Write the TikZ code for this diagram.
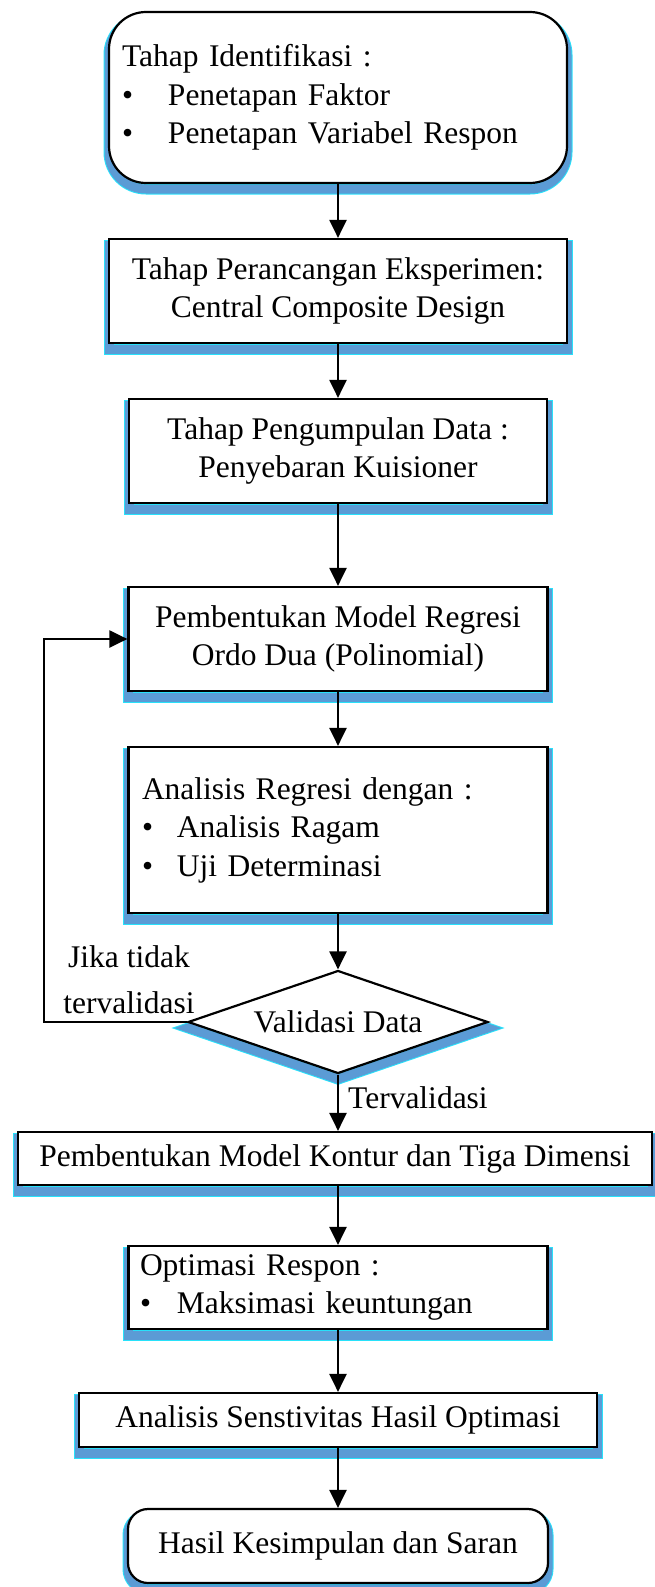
\documentclass[tikz,border=0pt]{standalone}
\usepackage{fontspec}
\setmainfont{Liberation Serif}
\usepackage{tikz}
\usetikzlibrary{arrows.meta,shapes.geometric}
\definecolor{shadowblue}{RGB}{91,155,213}
\definecolor{shadowcyan}{RGB}{40,225,250}

\begin{document}
\begin{tikzpicture}[x=1pt, y=1pt,
    font=\fontsize{31.5}{38.5}\selectfont,
    boxshadow/.style={
        preaction={draw=shadowcyan, line width=11pt, transform canvas={yshift=-6pt}},
        preaction={draw=shadowblue, line width=9pt, transform canvas={yshift=-6pt}}},
    stepbox/.style={boxshadow, draw, line width=2.2pt, fill=white, inner sep=0pt, align=center},
    roundbox/.style={stepbox, rounded corners=#1},
    decision/.style={boxshadow, diamond, draw, line width=2.2pt, fill=white, inner sep=0pt, aspect=2.9},
    flow/.style={-{Triangle[length=18pt,width=17pt]}, line width=2.2pt}]
    \useasboundingbox (0,0) rectangle (654,-1587);

    % Steps
    \node[roundbox=37pt, minimum width=458pt, minimum height=171pt, text width=432pt, align=left] (ident) at (338,-97.5)
        {Tahap Identifikasi :\\\makebox[46pt][l]{\textbullet}Penetapan Faktor\\\makebox[46pt][l]{\textbullet}Penetapan Variabel Respon};
    \node[stepbox, minimum width=458pt, minimum height=104pt] (design) at (338,-291)
        {Tahap Perancangan Eksperimen:\\Central Composite Design};
    \node[stepbox, minimum width=418pt, minimum height=104pt] (collect) at (338,-451)
        {Tahap Pengumpulan Data :\\Penyebaran Kuisioner};
    \node[stepbox, minimum width=419pt, minimum height=104pt] (model) at (338,-639)
        {Pembentukan Model Regresi\\Ordo Dua (Polinomial)};
    \node[stepbox, minimum width=419pt, minimum height=166pt, text width=392pt, align=left] (regress) at (338,-830)
        {Analisis Regresi dengan :\\\makebox[35pt][l]{\textbullet}Analisis Ragam\\\makebox[35pt][l]{\textbullet}Uji Determinasi};
    \node[decision, minimum width=300pt, minimum height=103pt] (valid) at (338,-1022) {Validasi Data};
    \node[stepbox, minimum width=634pt, minimum height=53pt] (kontur) at (335,-1158.5)
        {Pembentukan Model Kontur dan Tiga Dimensi};
    \node[stepbox, minimum width=419pt, minimum height=83pt, text width=396pt, align=left] (optim) at (338,-1287.5)
        {Optimasi Respon :\\\makebox[37pt][l]{\textbullet}Maksimasi keuntungan};
    \node[stepbox, minimum width=518pt, minimum height=54pt] (sens) at (338,-1420)
        {Analisis Senstivitas Hasil Optimasi};
    \node[roundbox=20pt, minimum width=420pt, minimum height=74pt] (result) at (338,-1546)
        {Hasil Kesimpulan dan Saran};

    % Labels
    \node[anchor=base west, inner sep=0pt] (yes) at (348,-1108) {Tervalidasi};
    \node[align=center, inner sep=0pt, font=\fontsize{31.5}{46}\selectfont] (no) at (129,-980) {Jika tidak\\tervalidasi};

    % Flow
    \draw[flow] (ident) -- (design);
    \draw[flow] (design) -- (collect);
    \draw[flow] (collect) -- (model);
    \draw[flow] (model) -- (regress);
    \draw[flow] (regress) -- (valid);
    \draw[flow] (valid.south) -- (valid.south |- kontur.north);
    \draw[flow] (optim.north |- kontur.south) -- (optim);
    \draw[flow] (optim) -- (sens);
    \draw[flow] (sens) -- (result);
    \draw[flow] (valid.west) -- ++(-143,0) |- (model.west);
\end{tikzpicture}
\end{document}
